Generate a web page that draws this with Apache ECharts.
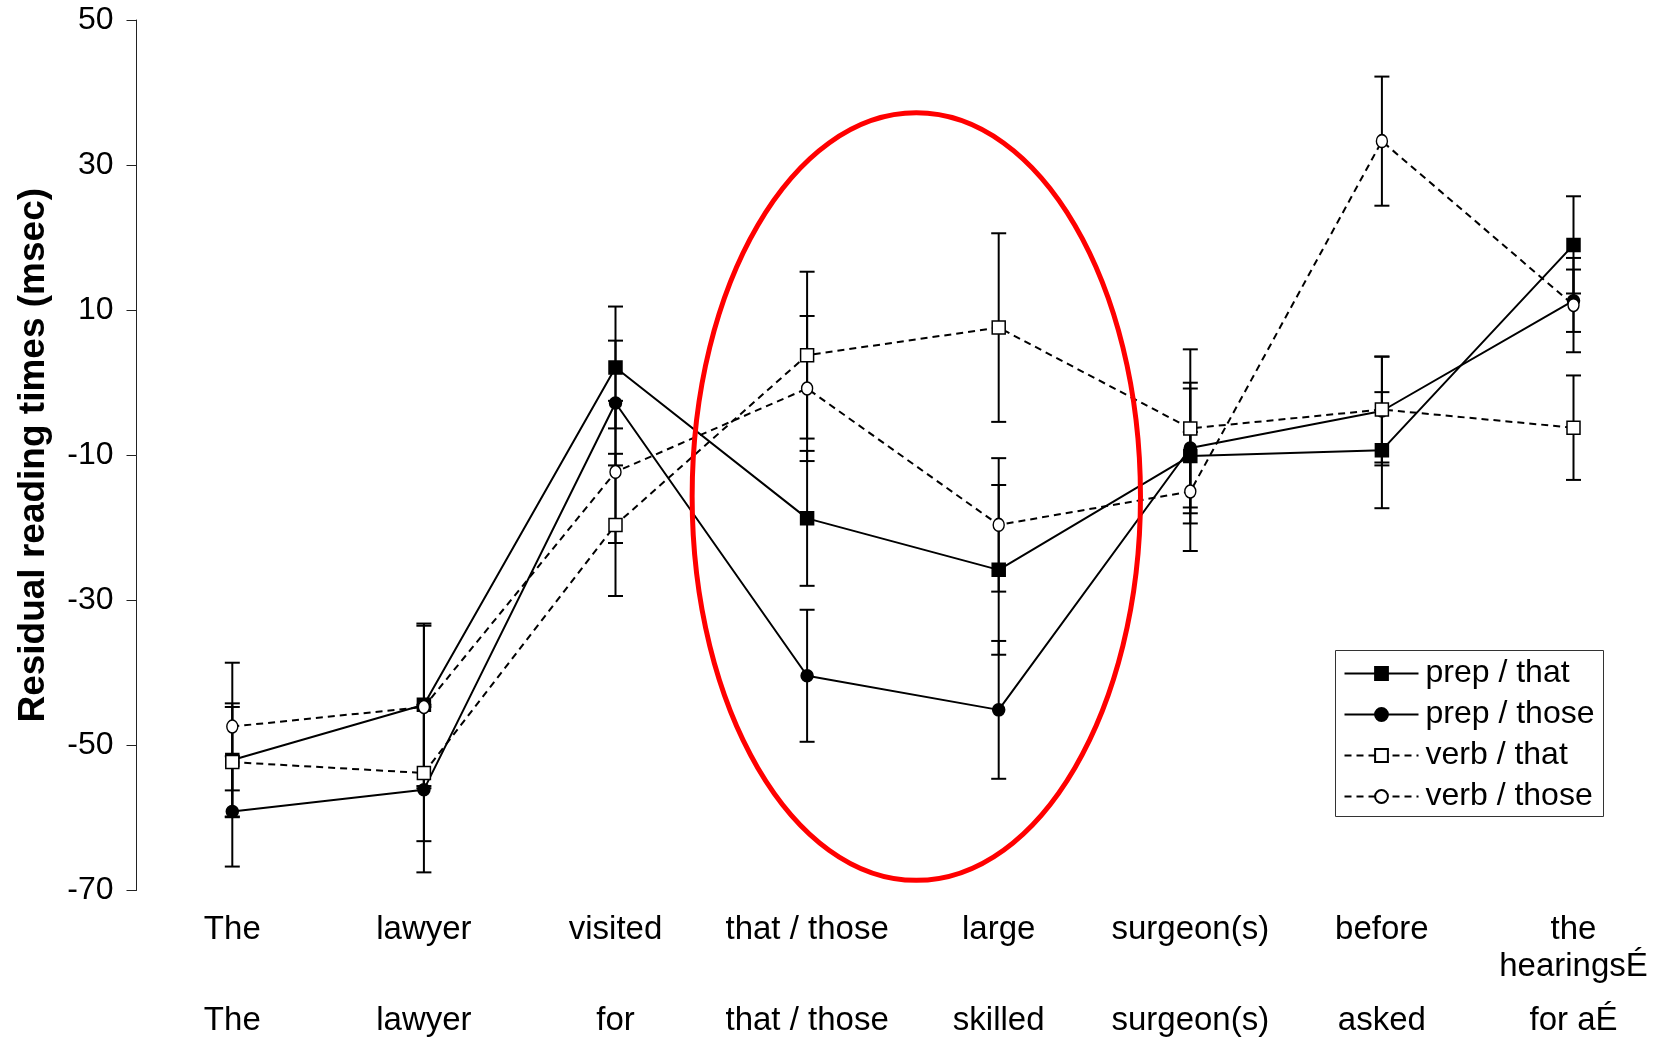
<!DOCTYPE html>
<html>
<head>
<meta charset="utf-8">
<script src="https://cdn.jsdelivr.net/npm/echarts@6/dist/echarts.min.js"></script>
<style>
html,body{margin:0;padding:0;background:#fff;}
#chart{width:1660px;height:1039px;}
</style>
</head>
<body>
<div id="chart"></div>
<script>
// ---------- data ----------
const categoriesRow1 = ['The', 'lawyer', 'visited', 'that / those', 'large', 'surgeon(s)', 'before', 'the\nhearingsÉ'];
const categoriesRow2 = ['The', 'lawyer', 'for', 'that / those', 'skilled', 'surgeon(s)', 'asked', 'for aÉ'];

const seriesNames = ['prep / that', 'prep / those', 'verb / that', 'verb / those'];

const prepThatMean  = [-52.0, -44.4,   2.1, -18.7, -25.8, -10.1,  -9.3, 19.0];
const prepThatErr   = [  7.8,  11.2,   8.4,   9.3,  11.7,   9.3,   8.0,  6.7];

const prepThoseMean = [-59.1, -56.1,  -2.8, -40.4, -45.1,  -9.0,  -3.9, 11.3];
const prepThoseErr  = [  7.6,  11.4,   8.6,   9.1,   9.5,   9.0,   7.5,  4.3];

const verbThatMean  = [-52.3, -53.8, -19.6,   3.8,   7.6,  -6.3,  -3.7, -6.2];
const verbThatErr   = [  7.6,   9.4,   9.8,  11.5,  13.0,  10.9,   7.3,  7.2];

const verbThoseMean = [-47.4, -44.7, -12.3,  -0.8, -19.6, -15.0,  33.3, 10.7];
const verbThoseErr  = [  8.8,  11.2,   9.8,  10.0,   9.2,   8.2,   8.9,  6.5];

const yMin = -70, yMax = 50, yStep = 20;

// highlighted region (data units: category index, value)
const highlightCenterX = 3.57, highlightCenterY = -15.7;
const highlightRadiusX = 1.17, highlightRadiusY = 52.9;

// ---------- chart ----------
const FONT = '"Liberation Sans", Arial, Helvetica, sans-serif';
const chart = echarts.init(document.getElementById('chart'), null, {renderer: 'canvas'});

function errorBars(name, means, errs) {
  return {
    type: 'custom',
    name: name + ' SE',
    silent: true,
    z: 1,
    encode: {x: 0, y: [1, 2]},
    data: means.map((m, i) => [i, m - errs[i], m + errs[i]]),
    renderItem: function (params, api) {
      const lo = api.coord([api.value(0), api.value(1)]);
      const hi = api.coord([api.value(0), api.value(2)]);
      const w = 7.5;
      const st = {stroke: '#000', lineWidth: 2, fill: null};
      return {
        type: 'group',
        children: [
          {type: 'line', shape: {x1: lo[0], y1: lo[1], x2: hi[0], y2: hi[1]}, style: st},
          {type: 'line', shape: {x1: lo[0] - w, y1: lo[1], x2: lo[0] + w, y2: lo[1]}, style: st},
          {type: 'line', shape: {x1: hi[0] - w, y1: hi[1], x2: hi[0] + w, y2: hi[1]}, style: st}
        ]
      };
    }
  };
}

function lineSeries(name, values, symbol, size, filled, dashed) {
  return {
    type: 'line',
    name: name,
    data: values,
    z: 2,
    symbol: symbol,
    symbolSize: size,
    showAllSymbol: true,
    lineStyle: {color: '#000', width: 2, type: dashed ? [7, 5] : 'solid'},
    itemStyle: {color: filled ? '#000' : '#fff', borderColor: '#000', borderWidth: 1.5, opacity: 1},
    emphasis: {disabled: true},
    animation: false
  };
}

const xLabelStyle = {interval: 0, fontSize: 33, lineHeight: 37, color: '#000', fontFamily: FONT, align: 'center'};

const option = {
  backgroundColor: '#fff',
  animation: false,
  grid: {left: 232.3, right: 86.5, top: 20, bottom: 145.5, containLabel: false},
  legend: {
    data: seriesNames,
    orient: 'vertical',
    left: 1335.5,
    top: 650.5,
    selectedMode: false,
    backgroundColor: '#fff',
    borderColor: '#333',
    borderWidth: 1,
    borderRadius: 0,
    padding: [7, 9, 4, 8],
    itemGap: 9,
    itemWidth: 74,
    itemHeight: 16,
    textStyle: {fontSize: 32, color: '#000', fontFamily: FONT, lineHeight: 32, padding: [0, 0, 0, 2]}
  },
  xAxis: [
    {
      type: 'category',
      data: categoriesRow1,
      position: 'bottom',
      boundaryGap: false,
      axisLine: {show: false},
      axisTick: {show: false},
      splitLine: {show: false},
      axisLabel: Object.assign({margin: 20.5}, xLabelStyle)
    },
    {
      type: 'category',
      data: categoriesRow2,
      position: 'bottom',
      offset: 91,
      boundaryGap: false,
      axisLine: {show: false},
      axisTick: {show: false},
      splitLine: {show: false},
      axisLabel: Object.assign({margin: 20.5}, xLabelStyle)
    }
  ],
  yAxis: {
    type: 'value',
    min: yMin,
    max: yMax,
    interval: yStep,
    offset: 95.8,
    axisLine: {show: true, lineStyle: {color: '#222', width: 1}},
    axisTick: {show: true, inside: false, length: 10, lineStyle: {color: '#222', width: 1}},
    axisLabel: {margin: 23, fontSize: 32, color: '#000', fontFamily: FONT},
    splitLine: {show: false},
    name: 'Residual reading times (msec)',
    nameLocation: 'middle',
    nameRotate: 90,
    nameGap: 84,
    nameTextStyle: {fontSize: 37, fontWeight: 'bold', color: '#000', fontFamily: FONT}
  },
  series: [
    errorBars(seriesNames[0], prepThatMean, prepThatErr),
    errorBars(seriesNames[1], prepThoseMean, prepThoseErr),
    errorBars(seriesNames[2], verbThatMean, verbThatErr),
    errorBars(seriesNames[3], verbThoseMean, verbThoseErr),
    lineSeries(seriesNames[0], prepThatMean, 'rect', 13, true, false),
    lineSeries(seriesNames[1], prepThoseMean, 'circle', 12, true, false),
    lineSeries(seriesNames[2], verbThatMean, 'rect', 13, false, true),
    lineSeries(seriesNames[3], verbThoseMean, 'circle', [11, 13], false, true),
    {
      type: 'custom',
      name: 'highlight',
      silent: true,
      z: 5,
      clip: false,
      encode: {x: 0, y: 1},
      data: [[0, highlightCenterY, highlightCenterX, highlightRadiusX, highlightRadiusY]],
      renderItem: function (params, api) {
        const cy = api.value(1), cx = api.value(2), rx = api.value(3), ry = api.value(4);
        const i0 = Math.floor(cx);
        const p0 = api.coord([i0, cy]);
        const p1 = api.coord([i0 + 1, cy]);
        const band = p1[0] - p0[0];
        const pTop = api.coord([i0, cy + ry]);
        return {
          type: 'ellipse',
          shape: {cx: p0[0] + (cx - i0) * band, cy: p0[1], rx: rx * band, ry: Math.abs(p0[1] - pTop[1])},
          style: {fill: null, stroke: '#ff0000', lineWidth: 5}
        };
      }
    }
  ]
};

chart.setOption(option);
</script>
</body>
</html>
